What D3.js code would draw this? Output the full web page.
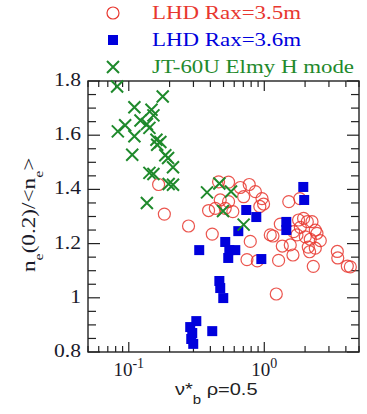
<!DOCTYPE html>
<html>
<head>
<meta charset="utf-8">
<script src="https://cdn.jsdelivr.net/npm/d3@7"></script>
<style>
  body { margin: 0; background: #fff; }
  svg { display: block; }
  .serif { font-family: 'Liberation Serif', 'Times New Roman', Times, serif; fill: #1a1a2a; }
  .sans { font-family: 'Liberation Sans', Arial, Helvetica, sans-serif; fill: #222; }
</style>
</head>
<body>
<div id="chart"></div>
<script>
// LHD Rax=3.5m  [nu*_b, ne(0.2)/<ne>]
const lhd35 = [
  [0.166, 1.418], [0.183, 1.309], [0.276, 1.265], [0.413, 1.235], [0.460, 1.428],
  [0.545, 1.427], [0.665, 1.407], [0.774, 1.418], [0.859, 1.392], [0.962, 1.366],
  [0.988, 1.346], [0.927, 1.337], [0.704, 1.373], [0.473, 1.361], [0.545, 1.355],
  [0.388, 1.322], [0.435, 1.330], [0.515, 1.330], [0.586, 1.318], [0.788, 1.208],
  [0.745, 1.141], [0.888, 1.136], [1.107, 1.232], [1.226, 1.014], [1.516, 1.355],
  [1.828, 1.366], [1.313, 1.272], [1.159, 1.228], [1.358, 1.191], [1.628, 1.158],
  [1.275, 1.138], [1.555, 1.195], [1.791, 1.287], [1.950, 1.293], [2.077, 1.281],
  [2.249, 1.281], [1.845, 1.260], [2.379, 1.250], [2.448, 1.238], [2.590, 1.211],
  [2.184, 1.216], [2.008, 1.225], [1.743, 1.232], [2.379, 1.183], [2.159, 1.170],
  [2.299, 1.116], [1.645, 1.244], [2.112, 1.187], [3.459, 1.171], [3.486, 1.147],
  [4.100, 1.117], [4.315, 1.114]
];

// LHD Rax=3.6m
const lhd36 = [
  [1.94, 1.409], [1.97, 1.361], [0.736, 1.324], [0.873, 1.298], [0.643, 1.246],
  [1.454, 1.280], [1.454, 1.250], [0.515, 1.206], [0.611, 1.176], [0.552, 1.176],
  [0.542, 1.147], [0.331, 1.176], [0.951, 1.143], [0.466, 1.062], [0.473, 1.036],
  [0.498, 0.999], [0.315, 0.914], [0.284, 0.892], [0.294, 0.870], [0.289, 0.848],
  [0.299, 0.830], [0.413, 0.877]
];

// JT-60U Elmy H mode
const jt60u = [
  [0.082, 1.780], [0.178, 1.743], [0.110, 1.703], [0.147, 1.694], [0.152, 1.673],
  [0.122, 1.654], [0.094, 1.637], [0.136, 1.641], [0.142, 1.627], [0.083, 1.614],
  [0.110, 1.596], [0.160, 1.583], [0.171, 1.575], [0.162, 1.565], [0.106, 1.528],
  [0.186, 1.526], [0.195, 1.516], [0.212, 1.482], [0.142, 1.461], [0.152, 1.457],
  [0.197, 1.420], [0.212, 1.417], [0.136, 1.350], [0.378, 1.389], [0.466, 1.422],
  [0.568, 1.392], [0.496, 1.320], [0.704, 1.270]
];

const yLabels = [0.8, 1, 1.2, 1.4, 1.6, 1.8];
const xLabels = [{v: 0.1, exp: '-1'}, {v: 1, exp: '0'}];
const legendItems = ['LHD Rax=3.5m', 'LHD Rax=3.6m', 'JT-60U Elmy H mode'];
const legendWidths = [149, 149, 202];

const width = 367;
const height = 414;
const plotLeft = 88, plotTop = 81, plotRight = 359, plotBottom = 352;

const red = '#e8372f';
const blue = '#0000dc';
const green = '#1f8a2c';

const svg = d3.select('#chart').append('svg')
  .attr('width', width)
  .attr('height', height);

const x = d3.scaleLog().domain([0.05, 5]).range([plotLeft, plotRight]);
const y = d3.scaleLinear().domain([0.8, 1.8]).range([plotBottom, plotTop]);

// minor / major x ticks
const xMinor = [];
for (const dec of [0.01, 0.1, 1]) {
  for (let k = 1; k <= 9; k++) {
    const v = +(dec * k).toFixed(3);
    if (v >= 0.05 && v <= 5.0001) xMinor.push(v);
  }
}
const xMajor = [0.1, 1];
const yTicks = d3.range(0.8, 1.8001, 0.05).map((d) => +d.toFixed(2));
const isLabeled = (d) => Math.abs(Math.round(d * 5) - d * 5) < 1e-6;

const axes = svg.append('g').attr('stroke', '#222').attr('stroke-width', 1.2);

// bottom & top ticks
axes.selectAll('.xb').data(xMinor).enter().append('line')
  .attr('x1', (d) => x(d)).attr('x2', (d) => x(d))
  .attr('y1', plotBottom).attr('y2', (d) => plotBottom - (xMajor.includes(d) ? 10 : 6));
axes.selectAll('.xt').data(xMinor).enter().append('line')
  .attr('x1', (d) => x(d)).attr('x2', (d) => x(d))
  .attr('y1', plotTop).attr('y2', (d) => plotTop + (xMajor.includes(d) ? 10 : 6));

// left & right ticks
axes.selectAll('.yl').data(yTicks).enter().append('line')
  .attr('y1', (d) => y(d)).attr('y2', (d) => y(d))
  .attr('x1', plotLeft).attr('x2', (d) => plotLeft + (isLabeled(d) ? 12 : 8));
axes.selectAll('.yr').data(yTicks).enter().append('line')
  .attr('y1', (d) => y(d)).attr('y2', (d) => y(d))
  .attr('x1', plotRight).attr('x2', (d) => plotRight - (isLabeled(d) ? 12 : 8));

axes.append('rect')
  .attr('x', plotLeft).attr('y', plotTop)
  .attr('width', plotRight - plotLeft).attr('height', plotBottom - plotTop)
  .attr('fill', 'none').attr('stroke-width', 1.4);

// y tick labels
svg.selectAll('.ylab').data(yLabels).enter().append('text')
  .attr('class', 'serif')
  .attr('transform', (d) => `translate(81, ${y(d) + 5}) scale(1.2, 1)`)
  .attr('text-anchor', 'end')
  .attr('font-size', 18)
  .text((d) => d === 1 ? '1' : d.toFixed(1));

// x tick labels
const xl = svg.selectAll('.xlab').data(xLabels).enter().append('text')
  .attr('class', 'serif')
  .attr('transform', (d) => `translate(${x(d.v)}, 376)`)
  .attr('text-anchor', 'middle')
  .attr('font-size', 19);
xl.append('tspan').text('10');
xl.append('tspan').attr('dy', -8).attr('font-size', 14).text((d) => d.exp);

// axis titles
const xt = svg.append('text')
  .attr('class', 'sans')
  .attr('transform', 'translate(175, 395) scale(1.25, 1)')
  .attr('font-size', 16);
xt.append('tspan').text('ν*');
xt.append('tspan').attr('dy', 9).attr('font-size', 12).text('b');
xt.append('tspan').attr('dy', -9).text(' ρ=0.5');

const yt = svg.append('text')
  .attr('class', 'serif')
  .attr('transform', 'translate(35, 272) rotate(-90) scale(1.22, 1)')
  .attr('font-size', 19);
yt.append('tspan').text('n');
yt.append('tspan').attr('dy', 8).attr('font-size', 13).text('e');
yt.append('tspan').attr('dy', -8).text('(0.2)/<n');
yt.append('tspan').attr('dy', 8).attr('font-size', 13).text('e');
yt.append('tspan').attr('dy', -8).text('>');

// markers
const plot = svg.append('g');

plot.selectAll('.c35').data(lhd35).enter().append('circle')
  .attr('cx', (d) => x(d[0])).attr('cy', (d) => y(d[1]))
  .attr('r', 6)
  .attr('fill', 'none').attr('stroke', red).attr('stroke-width', 1.2)
  .attr('opacity', 0.85);

plot.selectAll('.s36').data(lhd36).enter().append('rect')
  .attr('x', (d) => x(d[0]) - 5).attr('y', (d) => y(d[1]) - 5)
  .attr('width', 10).attr('height', 10)
  .attr('fill', blue);

plot.selectAll('.xjt').data(jt60u).enter().append('path')
  .attr('transform', (d) => `translate(${x(d[0])}, ${y(d[1])})`)
  .attr('d', 'M-6,-6L6,6M-6,6L6,-6')
  .attr('stroke', green).attr('stroke-width', 2).attr('fill', 'none');

// legend
const legend = svg.append('g');
const legendColors = [red, blue, green];
const legendY = [13, 40, 67];
legend.append('circle').attr('cx', 113).attr('cy', legendY[0]).attr('r', 6)
  .attr('fill', 'none').attr('stroke', red).attr('stroke-width', 1.2);
legend.append('rect').attr('x', 108).attr('y', legendY[1] - 5).attr('width', 10).attr('height', 10)
  .attr('fill', blue);
legend.append('path').attr('transform', `translate(113, ${legendY[2]})`)
  .attr('d', 'M-6,-6L6,6M-6,6L6,-6')
  .attr('stroke', green).attr('stroke-width', 2);
legend.selectAll('.lt').data(legendItems).enter().append('text')
  .attr('class', 'serif')
  .attr('x', 152)
  .attr('y', (d, i) => legendY[i] + 6)
  .attr('font-size', 19)
  .attr('textLength', (d, i) => legendWidths[i])
  .attr('lengthAdjust', 'spacingAndGlyphs')
  .style('fill', (d, i) => legendColors[i])
  .text((d) => d);
</script>
</body>
</html>
